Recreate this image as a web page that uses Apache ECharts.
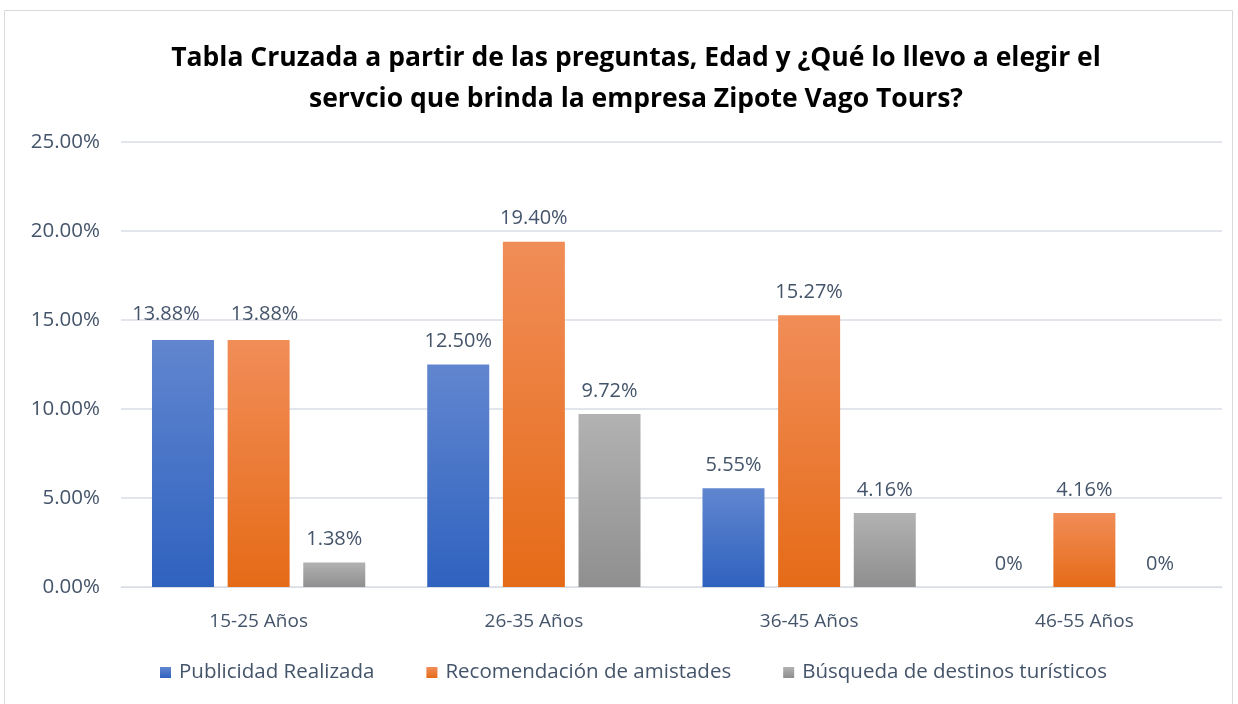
<!DOCTYPE html>
<html>
<head>
<meta charset="utf-8">
<script src="https://cdn.jsdelivr.net/npm/echarts@6/dist/echarts.min.js"></script>
<style>
    body { margin: 0; background: #fff; }
    #chart { width: 1238px; height: 704px; }
</style>
</head>
<body>
<div id="chart"></div>
<script>
    // datos
    const categories = ['15-25 Años', '26-35 Años', '36-45 Años', '46-55 Años'];
    const publicidad = [13.88, 12.50, 5.55, 0];
    const recomendacion = [13.88, 19.40, 15.27, 4.16];
    const busqueda = [1.38, 9.72, 4.16, 0];
    const seriesNames = ['Publicidad Realizada', 'Recomendación de amistades', 'Búsqueda de destinos turísticos'];
    const yTicks = [0, 5, 10, 15, 20, 25];

    const font = '"Open Sans", "Noto Sans", sans-serif';
    const textColor = '#44546a';

    function grad(top, bottom) {
        return new echarts.graphic.LinearGradient(0, 0, 0, 1, [
            { offset: 0, color: top },
            { offset: 1, color: bottom }
        ]);
    }

    function pct(v) {
        return v === 0 ? '0%' : v.toFixed(2) + '%';
    }

    // en el primer grupo las etiquetas se separan un poco (como en Excel)
    function withOffset(values, idx, offset) {
        return values.map(function (v, i) {
            if (i !== idx) return v;
            return { value: v, label: { offset: offset } };
        });
    }

    let labelStyle = {
        show: true,
        position: 'top',
        distance: 13,
        color: textColor,
        fontSize: 20,
        fontFamily: font,
        formatter: function (p) { return pct(p.value); }
    };

    let myChart = echarts.init(document.getElementById('chart'));
    let option = {
        animation: false,
        title: {
            text: 'Tabla Cruzada a partir de las preguntas, Edad y ¿Qué lo llevo a elegir el\nservcio que brinda la empresa Zipote Vago Tours?',
            left: 631,
            textAlign: 'center',
            top: 33,
            textStyle: {
                fontFamily: font,
                fontSize: 26.5,
                fontWeight: 'bold',
                color: '#000',
                lineHeight: 41
            }
        },
        graphic: [{
            type: 'rect',
            shape: { x: 4.5, y: 10.5, width: 1228, height: 700 },
            style: { fill: 'none', stroke: '#d9d9d9', lineWidth: 1 },
            silent: true
        }],
        legend: {
            bottom: 16,
            left: 155,
            itemWidth: 11,
            itemHeight: 11,
            itemGap: 52,
            icon: 'rect',
            textStyle: { fontFamily: font, fontSize: 20.5, color: textColor, padding: [0, 0, 0, 3] },
            data: seriesNames
        },
        grid: { left: 121, right: 16, top: 142, bottom: 117 },
        xAxis: {
            type: 'category',
            data: categories,
            axisLine: { lineStyle: { color: '#d9dde4' } },
            axisTick: { show: false },
            axisLabel: { fontFamily: font, fontSize: 19, color: textColor, margin: 25 }
        },
        yAxis: {
            type: 'value',
            min: yTicks[0],
            max: yTicks[yTicks.length - 1],
            interval: 5,
            axisLine: { show: false },
            axisTick: { show: false },
            splitLine: { lineStyle: { color: '#d9dde4', width: 1.5 } },
            axisLabel: {
                fontFamily: font, fontSize: 20.5, color: textColor, margin: 21,
                formatter: function (v) { return v.toFixed(2) + '%'; }
            }
        },
        series: [
            {
                name: seriesNames[0], type: 'bar', data: withOffset(publicidad, 0, [-17, -3]),
                barWidth: 62, barGap: '22%',
                itemStyle: { color: grad('#6186cf', '#2f62bf') },
                label: labelStyle
            },
            {
                name: seriesNames[1], type: 'bar', data: withOffset(recomendacion, 0, [6, -3]),
                barWidth: 62, barGap: '22%',
                itemStyle: { color: grad('#f18d58', '#e56b17') },
                label: labelStyle
            },
            {
                name: seriesNames[2], type: 'bar', data: busqueda,
                barWidth: 62, barGap: '22%',
                itemStyle: { color: grad('#b2b2b2', '#8f8f8f') },
                label: labelStyle
            }
        ]
    };
    myChart.setOption(option);
</script>
</body>
</html>
